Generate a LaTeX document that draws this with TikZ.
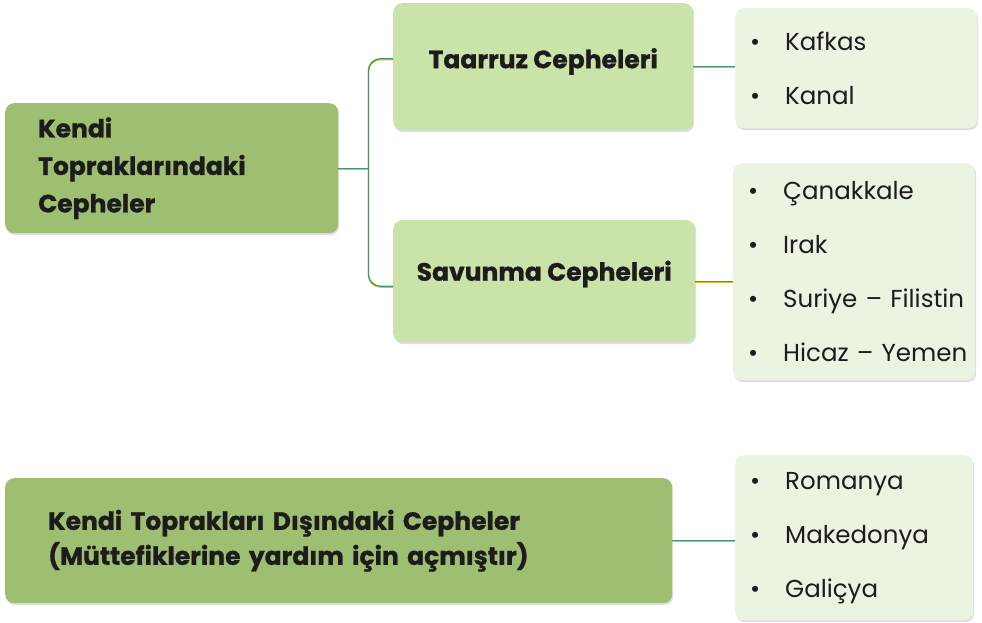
\documentclass[tikz,border=0pt]{standalone}
\usepackage{fontspec}
\setmainfont{Poppins}[BoldFeatures={FakeBold=1}]
\usetikzlibrary{shadows}

\definecolor{boxdark}{RGB}{158,191,113}
\definecolor{boxmid}{RGB}{202,227,168}
\definecolor{boxlight}{RGB}{235,244,224}
\definecolor{linegreen}{RGB}{70,150,105}
\definecolor{lineyellow}{RGB}{205,200,40}
\definecolor{textdark}{RGB}{28,28,28}

\begin{document}
\begin{tikzpicture}[x=1pt, y=-1pt]
	\tikzstyle{boxStyle} = [anchor=north west, rounded corners=9pt, inner ysep=0pt, align=left,
		text=textdark, drop shadow={shadow xshift=1pt, shadow yshift=-2pt, opacity=0.25}]
	\tikzstyle{headStyle} = [boxStyle, font=\fontsize{25}{37.5}\selectfont\bfseries]
	\tikzstyle{listStyle} = [boxStyle, fill=boxlight, inner xsep=15pt, font=\fontsize{24.5}{54}\selectfont]
	\tikzstyle{connStyle} = [draw=linegreen, line width=1.3pt,
		preaction={draw=lineyellow, line width=1.3pt, transform canvas={yshift=-1pt}}]
	\newcommand{\itm}[1]{\makebox[35pt][l]{•}\mbox{#1}}
	\useasboundingbox (0,0) rectangle (982,623);
	% left column
	\node[headStyle, fill=boxdark, inner xsep=33pt, text width=267pt, minimum height=130pt] (kendi) at (5,103)
		{Kendi\\Topraklarındaki\\Cepheler};
	\node[headStyle, fill=boxdark, inner xsep=43pt, text width=581pt, minimum height=125pt,
		font=\fontsize{25}{35}\selectfont\bfseries] (disinda) at (5,478)
		{Kendi Toprakları Dışındaki Cepheler\\(Müttefiklerine yardım için açmıştır)};
	% middle column
	\node[headStyle, fill=boxmid, minimum width=300pt, minimum height=127pt, text depth=17pt] (taarruz) at (393,3)
		{Taarruz Cepheleri};
	\node[headStyle, fill=boxmid, minimum width=302pt, minimum height=122pt, text depth=21pt] (savunma) at (393,220)
		{Savunma Cepheleri};
	% right column
	\node[listStyle, text width=212pt, minimum height=120pt] (list1) at (735,8)
		{\itm{Kafkas}\\\itm{Kanal}};
	\node[listStyle, text width=212pt, minimum height=217pt] (list2) at (733,163)
		{\itm{Çanakkale}\\\itm{Irak}\\\itm{Suriye – Filistin}\\\itm{Hicaz – Yemen}};
	\node[listStyle, text width=208pt, minimum height=165pt] (list3) at (735,455)
		{\itm{Romanya}\\\itm{Makedonya}\\\itm{Galiçya}};
	% connectors
	\coordinate (fork) at ([xshift=30pt]kendi.east);
	\draw[connStyle] (kendi.east) -- (fork);
	\draw[connStyle, rounded corners=12pt] ([yshift=8pt]taarruz.west) -| (fork) |- ([yshift=-5pt]savunma.west);
	\draw[connStyle] (taarruz.east) -- (taarruz.east -| list1.west);
	\draw[connStyle] (savunma.east) -- (savunma.east -| list2.west);
	\draw[connStyle] (disinda.east) -- (disinda.east -| list3.west);
\end{tikzpicture}
\end{document}
